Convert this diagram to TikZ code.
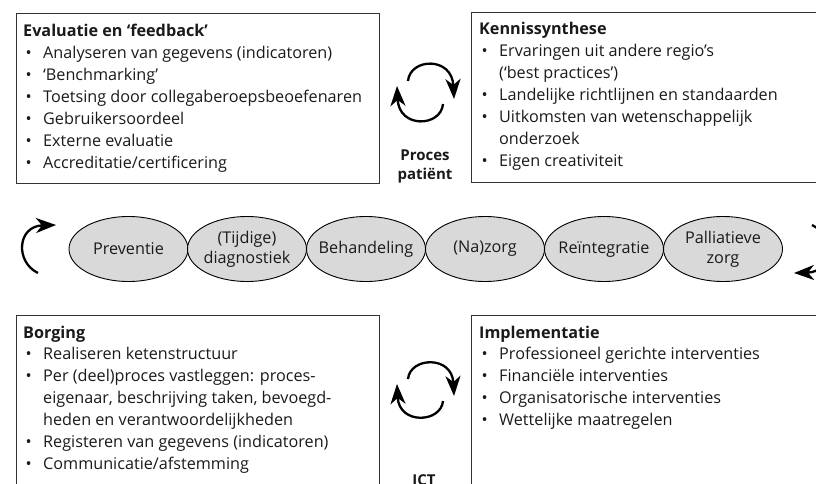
\documentclass[tikz,border=0pt]{standalone}
\usepackage{fontspec}
\setmainfont{Open Sans}
\usetikzlibrary{arrows.meta,shapes.geometric}
\definecolor{ellfill}{HTML}{D9D9D9}
\definecolor{ink}{HTML}{1A1A1A}
\definecolor{frame}{HTML}{333333}
\newcommand{\bt}{\makebox[20pt][l]{\hspace{2.5pt}•}}
\newcommand{\sz}{\fontsize{16.2}{21.9}\selectfont}
\begin{document}
\begin{tikzpicture}[x=1pt,y=-1pt,
  box/.style={draw=frame, line width=1.2pt, anchor=north west, inner sep=0pt},
  txt/.style={anchor=base west, inner sep=0pt, text=ink, font=\sz},
  ell/.style={ellipse, draw=black, line width=0.9pt, fill=ellfill, minimum width=119pt, minimum height=65pt, inner sep=-22pt, font=\fontsize{16.2}{20}\selectfont, text=ink, align=center},
  cyc/.style={line width=2.3pt, -{Stealth[length=20pt,width=15pt,inset=6pt]}},
  lbl/.style={font=\fontsize{15}{19}\selectfont\bfseries, text=ink, inner sep=0pt, anchor=base}
]
\useasboundingbox (0,0) rectangle (816,484);
\clip (0,0) rectangle (816,484);

% boxes
\node[box, minimum width=363pt, minimum height=170pt] (b1) at (16,13) {};
\node[box, minimum width=400pt, minimum height=170pt] (b2) at (471,12) {};
\node[box, minimum width=363pt, minimum height=260pt] (b3) at (16,315) {};
\node[box, minimum width=400pt, minimum height=260pt] (b4) at (471,315) {};

\node[txt] (t1) at (23,37) {\begin{tabular}[t]{@{}l@{}l@{}}
\multicolumn{2}{@{}l@{}}{\bfseries Evaluatie en ‘feedback’}\\
\bt & Analyseren van gegevens (indicatoren)\\
\bt & ‘Benchmarking’\\
\bt & Toetsing door collegaberoepsbeoefenaren\\
\bt & Gebruikersoordeel\\
\bt & Externe evaluatie\\
\bt & Accreditatie/certificering
\end{tabular}};

\node[txt] (t2) at (479,35) {\begin{tabular}[t]{@{}l@{}l@{}}
\multicolumn{2}{@{}l@{}}{\bfseries Kennissynthese}\\
\bt & Ervaringen uit andere regio’s\\
 & (‘best practices’)\\
\bt & Landelijke richtlijnen en standaarden\\
\bt & Uitkomsten van wetenschappelijk\\
 & onderzoek\\
\bt & Eigen creativiteit
\end{tabular}};

\node[txt] (t3) at (23,338) {\begin{tabular}[t]{@{}l@{}l@{}}
\multicolumn{2}{@{}l@{}}{\bfseries Borging}\\
\bt & Realiseren ketenstructuur\\
\bt & Per (deel)proces vastleggen: proces-\\
 & eigenaar, beschrijving taken, bevoegd-\\
 & heden en verantwoordelijkheden\\
\bt & Registeren van gegevens (indicatoren)\\
\bt & Communicatie/afstemming
\end{tabular}};

\node[txt] (t4) at (479,338) {\begin{tabular}[t]{@{}l@{}l@{}}
\multicolumn{2}{@{}l@{}}{\bfseries Implementatie}\\
\bt & Professioneel gerichte interventies\\
\bt & Financiële interventies\\
\bt & Organisatorische interventies\\
\bt & Wettelijke maatregelen
\end{tabular}};

% ellipses
\node[ell] (e1) at (128.5,249) {Preventie};
\node[ell] (e2) at (247,249) {(Tijdige)\\diagnostiek};
\node[ell] (e3) at (366,249) {Behandeling};
\node[ell] (e4) at (485,249) {(Na)zorg};
\node[ell] (e5) at (604,249) {Reïntegratie};
\node[ell] (e6) at (723,249) {Palliatieve\\zorg};

% outer arrows
\coordinate (la0) at (38,273);
\coordinate (la1) at (56,225);
\draw[cyc] (la0) .. controls (15,262) and (17,226) .. (la1);
\coordinate (ra0) at (812,225);
\coordinate (ra1) at (794,273);
\draw[cyc] (ra0) .. controls (835,236) and (833,272) .. (ra1);

% cycle Proces patient
\coordinate (p0) at (408,81);
\coordinate (p1) at (454,99);
\coordinate (p2) at (443,104);
\coordinate (p3) at (397,86);
\draw[cyc] (p0) .. controls (410,58) and (452,56) .. (p1);
\draw[cyc] (p2) .. controls (441,127) and (399,129) .. (p3);
\node[lbl] (pp) at (425,160) {\begin{tabular}[t]{@{}c@{}}Proces\\patiënt\end{tabular}};

% cycle ICT
\coordinate (q0) at (408,379);
\coordinate (q1) at (454,396);
\coordinate (q2) at (443,401);
\coordinate (q3) at (397,384);
\draw[cyc] (q0) .. controls (410,357) and (452,355) .. (q1);
\draw[cyc] (q2) .. controls (441,423) and (399,425) .. (q3);
\node[lbl] (ict) at (424,485) {ICT};
\end{tikzpicture}
\end{document}
